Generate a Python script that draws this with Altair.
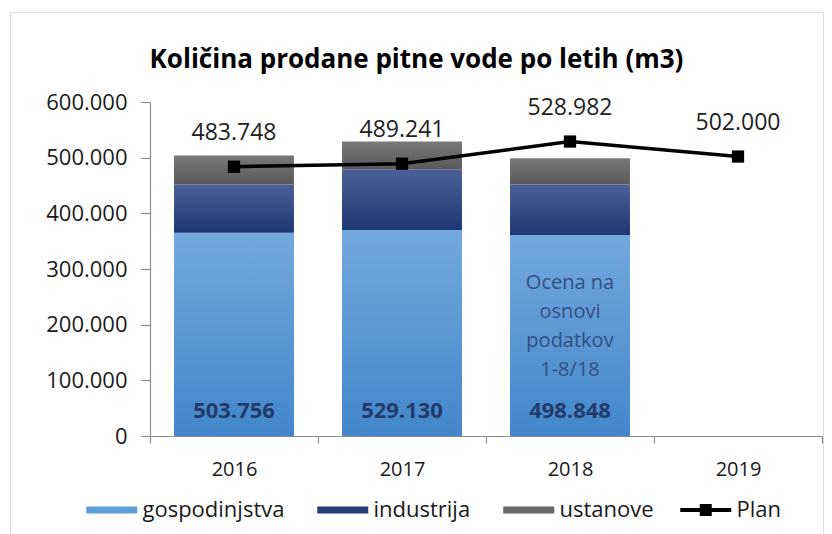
import altair as alt
import pandas as pd

# ---------------- data ----------------
years = ["2016", "2017", "2018", "2019"]
bar_years = ["2016", "2017", "2018"]
series_names = ["gospodinjstva", "industrija", "ustanove"]
gospodinjstva = [365000, 370000, 361000]
industrija = [87000, 109000, 91000]
ustanove = [51756, 50130, 46848]
totals = [503756, 529130, 498848]
plan_name = "Plan"
plan = [483748, 489241, 528982, 502000]
y_ticks = [0, 100000, 200000, 300000, 400000, 500000, 600000]
note_year = ["2018"]
note_text = ["Ocena na\nosnovi\npodatkov\n1-8/18"]
title_text = "Količina prodane pitne vode po letih (m3)"

# ---------------- tables ----------------
rows = []
for i, yr in enumerate(bar_years):
    for k, (name, vals) in enumerate(zip(series_names, [gospodinjstva, industrija, ustanove])):
        rows.append({"year": yr, "series": name, "value": vals[i], "order": k})
bars_df = pd.DataFrame(rows)
plan_df = pd.DataFrame({"year": years, "plan": plan})
tot_df = pd.DataFrame({"year": bar_years, "total": totals})
note_df = pd.DataFrame({"year": note_year, "note": note_text,
                        "anchor": [gospodinjstva[bar_years.index(note_year[0])]]})

FONT = "Open Sans"

def grad(top, bottom):
    return alt.LinearGradient(
        gradient="linear", x1=0, y1=0, x2=0, y2=1,
        stops=[alt.GradientStop(color=top, offset=0), alt.GradientStop(color=bottom, offset=1)],
    )

fills = {
    "gospodinjstva": grad("#72a8de", "#4386cb"),
    "industrija": grad("#4c6096", "#1c3872"),
    "ustanove": grad("#787878", "#5a5a5a"),
}
legend_colors = ["#5e9ed9", "#253f78", "#666666"]

x_scale = alt.Scale(domain=years, range=[140, 812], paddingInner=0, paddingOuter=0)
x_axis = alt.Axis(title=None, labelAngle=0, tickBand="extent", tickSize=7, offset=-98,
                  domainColor="#8c8c8c", tickColor="#8c8c8c", domainWidth=1.2, tickWidth=1.2,
                  labelFont=FONT, labelFontSize=20, labelColor="#1a1a1a", labelPadding=16, grid=False)
y_scale = alt.Scale(domain=[0, 600000], range=[424, 90], nice=False, zero=True)
y_axis = alt.Axis(title=None, values=y_ticks, format=",.0f", grid=False, tickSize=9, offset=-140,
                  domainColor="#8c8c8c", tickColor="#8c8c8c", domainWidth=1.2, tickWidth=1.2,
                  labelFont=FONT, labelFontSize=22, labelColor="#1a1a1a", labelPadding=14)

xe = alt.X("year:N", scale=x_scale, axis=x_axis, sort=years)

base = alt.Chart(bars_df).transform_stack(
    stack="value", as_=["v0", "v1"], groupby=["year"], sort=[alt.SortField("order", "ascending")]
)
bar_layers = []
for name in series_names:
    bar_layers.append(
        base.transform_filter(alt.datum.series == name)
        .mark_bar(width=alt.RelativeBandSize(0.714), color=fills[name])
        .encode(x=xe, y=alt.Y("v0:Q", scale=y_scale, axis=y_axis), y2="v1:Q")
    )

line = alt.Chart(plan_df).mark_line(
    color="black", strokeWidth=3.5,
    point=alt.OverlayMarkDef(shape="square", size=150, filled=True, color="black"),
).encode(x=xe, y=alt.Y("plan:Q", scale=y_scale, axis=y_axis))

plan_labels = alt.Chart(plan_df).mark_text(
    dy=-34, font=FONT, fontSize=23, color="#222222", baseline="middle"
).encode(x=xe, y=alt.Y("plan:Q", scale=y_scale, axis=y_axis), text=alt.Text("plan:Q", format=",.0f"))

tot_labels = alt.Chart(tot_df).mark_text(
    dy=-25, font=FONT, fontSize=22, fontWeight="bold", color="#233b6a", baseline="middle"
).encode(x=xe, y=alt.Y(datum=0, scale=y_scale, axis=y_axis), text=alt.Text("total:Q", format=",.0f"))

note = alt.Chart(note_df).mark_text(
    dy=38, font=FONT, fontSize=20, color="#34507f", baseline="top", lineHeight=29,
    align="center", lineBreak="\n"
).encode(x=xe, y=alt.Y("anchor:Q", scale=y_scale, axis=y_axis), text="note:N")

rect_path = "M-1,-0.275H3V0.275H-1Z"
plan_path = "M-1,-0.15H0.53V-0.47H1.47V-0.15H3V0.15H1.47V0.47H0.53V0.15H-1Z"

leg_common = dict(title=None, orient="none", direction="horizontal", padding=0,
                  symbolSize=650, symbolStrokeWidth=0, symbolOpacity=1,
                  labelFont=FONT, labelFontSize=22, labelColor="#1a1a1a",
                  labelOffset=30.5, labelLimit=0, columnPadding=32, legendY=485)

leg1 = alt.Chart(pd.DataFrame({"series": series_names})).mark_point(filled=True, opacity=0).encode(
    color=alt.Color("series:N", scale=alt.Scale(domain=series_names, range=legend_colors),
                    legend=alt.Legend(symbolType=rect_path, legendX=76, **leg_common))
)
leg2 = alt.Chart(pd.DataFrame({"plan_series": [plan_name]})).mark_point(
    filled=True, opacity=0, color="black"
).encode(
    shape=alt.Shape("plan_series:N", scale=alt.Scale(domain=[plan_name], range=[plan_path]),
                    legend=alt.Legend(symbolFillColor="black", legendX=670, **leg_common))
)

chart = alt.layer(*bar_layers, line, plan_labels, tot_labels, note, leg1, leg2).properties(
    width=813, height=522,
    autosize=alt.AutoSizeParams(type="none"),
    padding={"left": 2, "top": 4, "right": 1, "bottom": 0},
    title=alt.Title(title_text, font=FONT, fontSize=26, fontWeight="bold", color="#000000",
                    anchor="middle", frame="group", offset=-61),
).configure_view(
    stroke="#a8a8a8", strokeWidth=1.5, cornerRadius=24
).configure(
    locale={"number": {"decimal": ",", "thousands": ".", "grouping": [3], "currency": ["", "€"]}}
)

chart.save("out.html", embed_options={"renderer": "svg", "actions": False})
